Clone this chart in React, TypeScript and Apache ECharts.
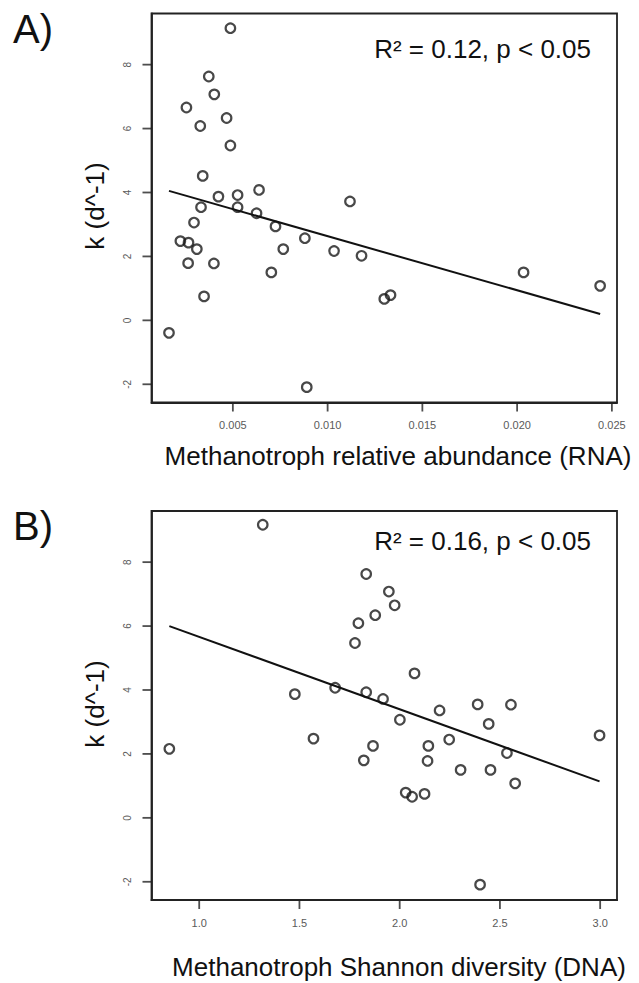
import React, { useEffect, useRef } from "react";
import * as echarts from "echarts";

// Panel A: methanotroph relative abundance (RNA) vs k
const rnaAbundance = [
  0.00487, 0.00373, 0.00402, 0.00255, 0.00467, 0.00328, 0.00487, 0.00341, 0.00638, 0.00424,
  0.00525, 0.01118, 0.00332, 0.00525, 0.00625, 0.00295, 0.00725, 0.00223, 0.00266, 0.0088,
  0.0031, 0.00766, 0.01034, 0.01179, 0.00264, 0.004, 0.00703, 0.02034, 0.02438, 0.00348,
  0.01299, 0.01332, 0.00163, 0.0089,
];
const kA = [
  9.14, 7.63, 7.07, 6.66, 6.33, 6.08, 5.47, 4.52, 4.08, 3.87,
  3.92, 3.72, 3.54, 3.54, 3.35, 3.06, 2.94, 2.48, 2.43, 2.57,
  2.23, 2.23, 2.17, 2.02, 1.79, 1.78, 1.5, 1.5, 1.08, 0.75,
  0.67, 0.79, -0.39, -2.09,
];
const fitAx = [0.00163, 0.02438];
const fitAy = [4.05, 0.2];

// Panel B: methanotroph Shannon diversity (DNA) vs k
const shannonDNA = [
  1.317, 1.833, 1.946, 1.975, 1.878, 1.794, 1.777, 2.074, 1.678, 1.477,
  1.833, 1.917, 2.389, 2.555, 2.199, 2.001, 2.444, 2.997, 1.57, 2.247,
  0.851, 1.867, 2.143, 2.535, 1.821, 2.139, 2.304, 2.453, 2.576, 2.03,
  2.062, 2.124, 2.401,
];
const kB = [
  9.17, 7.63, 7.08, 6.65, 6.34, 6.09, 5.47, 4.52, 4.07, 3.87,
  3.93, 3.72, 3.55, 3.54, 3.36, 3.07, 2.94, 2.58, 2.48, 2.45,
  2.16, 2.25, 2.25, 2.03, 1.8, 1.78, 1.5, 1.5, 1.08, 0.79,
  0.66, 0.75, -2.09,
];
const fitBx = [0.851, 2.997];
const fitBy = [6.0, 1.14];

// Axis ranges and tick values
const yRange = [-2.57, 9.6];
const xRangeA = [0.000707, 0.02527];
const xRangeB = [0.762, 3.084];
const yTicks = [-2, 0, 2, 4, 6, 8];
const xTicksA = [0.005, 0.01, 0.015, 0.02, 0.025];
const xTicksB = [1.0, 1.5, 2.0, 2.5, 3.0];

const FONT = "Liberation Sans, Arial, Helvetica, sans-serif";

export default function App() {
  const ref = useRef<HTMLDivElement>(null);
  useEffect(() => {
    if (!ref.current) return;
    const chart = echarts.init(ref.current, undefined, { renderer: "svg" });
    const pts = (xs: number[], ys: number[]) => xs.map((x, i) => [x, ys[i]]);
    const axisCommon = {
      axisLine: { show: true, onZero: false, lineStyle: { color: "#222", width: 1.8 } },
      splitLine: { show: false },
      axisTick: { show: false },
    };
    const xAxisCfg = (grid: number, range: number[], ticks: number[], dec: number) => ({
      type: "value",
      gridIndex: grid,
      min: range[0],
      max: range[1],
      ...axisCommon,
      axisLabel: {
        customValues: ticks,
        margin: 17,
        fontSize: 11,
        color: "#5a5a5a",
        fontFamily: FONT,
        formatter: (v: number) => v.toFixed(dec),
      },
    });
    const yAxisCfg = (grid: number) => ({
      type: "value",
      gridIndex: grid,
      min: yRange[0],
      max: yRange[1],
      ...axisCommon,
      axisLabel: {
        customValues: yTicks,
        rotate: 90,
        margin: 19,
        fontSize: 10,
        color: "#5a5a5a",
        fontFamily: FONT,
        formatter: (v: number) => String(Math.round(v)),
      },
    });
    const scatterCfg = (i: number, data: number[][]) => ({
      type: "scatter",
      xAxisIndex: i,
      yAxisIndex: i,
      data,
      symbol: "circle",
      symbolSize: 9.5,
      itemStyle: { color: "rgba(255,255,255,0)", borderColor: "#1a1a1a", borderWidth: 2.2 },
    });
    const lineCfg = (i: number, data: number[][]) => ({
      type: "line",
      xAxisIndex: i,
      yAxisIndex: i,
      data,
      symbol: "none",
      lineStyle: { color: "#111", width: 2 },
    });
    // tick marks, placed through the axes' own scales
    const xTickMarks = (i: number, ticks: number[]) => ({
      type: "scatter",
      xAxisIndex: i,
      yAxisIndex: i,
      clip: false,
      silent: true,
      data: ticks.map((t) => [t, yRange[0]]),
      symbol: "rect",
      symbolSize: [1.8, 9],
      symbolOffset: [0, 4.5],
      itemStyle: { color: "#222" },
      z: 5,
    });
    const yTickMarks = (i: number, range: number[]) => ({
      type: "scatter",
      xAxisIndex: i,
      yAxisIndex: i,
      clip: false,
      silent: true,
      data: yTicks.map((t) => [range[0], t]),
      symbol: "rect",
      symbolSize: [9, 1.8],
      symbolOffset: [-4.5, 0],
      itemStyle: { color: "#222" },
      z: 5,
    });
    const txt = (text: string, x: number, y: number, size: number, opts: any = {}) => ({
      type: "text",
      x,
      y,
      rotation: opts.rotation || 0,
      style: {
        text,
        fontSize: size,
        fontFamily: FONT,
        fill: "#111",
        align: opts.align || "center",
        verticalAlign: "middle",
      },
    });
    chart.setOption({
      animation: false,
      backgroundColor: "#fff",
      grid: [
        { left: 151.5, top: 13.5, width: 465.5, height: 389, show: true, borderColor: "#222", borderWidth: 1.8 },
        { left: 151.5, top: 511, width: 465.5, height: 389, show: true, borderColor: "#222", borderWidth: 1.8 },
      ],
      xAxis: [xAxisCfg(0, xRangeA, xTicksA, 3), xAxisCfg(1, xRangeB, xTicksB, 1)],
      yAxis: [yAxisCfg(0), yAxisCfg(1)],
      series: [
        scatterCfg(0, pts(rnaAbundance, kA)),
        lineCfg(0, pts(fitAx, fitAy)),
        scatterCfg(1, pts(shannonDNA, kB)),
        lineCfg(1, pts(fitBx, fitBy)),
        xTickMarks(0, xTicksA),
        yTickMarks(0, xRangeA),
        xTickMarks(1, xTicksB),
        yTickMarks(1, xRangeB),
      ],
      graphic: [
        txt("A)", 13, 29, 40, { align: "left" }),
        txt("B)", 13, 526, 40, { align: "left" }),
        txt("R² = 0.12, p < 0.05", 591, 49, 26, { align: "right" }),
        txt("R² = 0.16, p < 0.05", 591, 541, 26, { align: "right" }),
        txt("Methanotroph relative abundance (RNA)", 398, 456, 26),
        txt("Methanotroph Shannon diversity (DNA)", 399, 967, 26),
        txt("k (d^-1)", 95, 206, 26, { rotation: Math.PI / 2 }),
        txt("k (d^-1)", 95, 704, 26, { rotation: Math.PI / 2 }),
      ],
    });
    return () => chart.dispose();
  }, []);
  return (
    <div
      ref={ref}
      style={{ position: "absolute", left: 0, top: 0, width: 639, height: 983, background: "#fff" }}
    />
  );
}
